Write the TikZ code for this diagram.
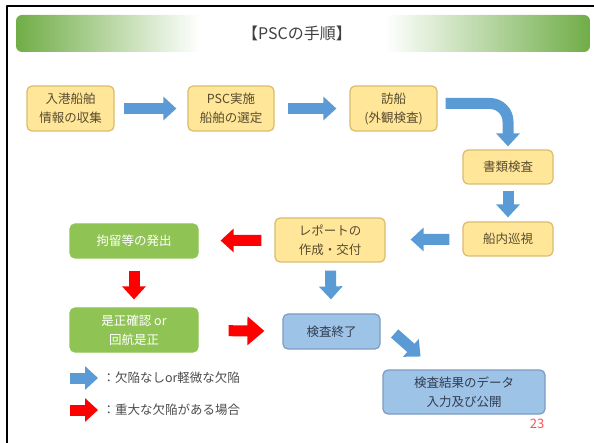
\documentclass[tikz,border=0pt]{standalone}
\usepackage{fontspec}
\setmainfont{Noto Sans CJK JP}
\usetikzlibrary{arrows.meta}
\definecolor{bangreen}{RGB}{112,173,71}
\definecolor{yfill}{RGB}{255,230,153}
\definecolor{yline}{RGB}{218,188,110}
\definecolor{ytext}{RGB}{88,76,46}
\definecolor{gfill}{RGB}{143,196,84}
\definecolor{bfill}{RGB}{157,195,230}
\definecolor{bline}{RGB}{125,155,195}
\definecolor{btext}{RGB}{50,60,80}
\definecolor{arrblue}{RGB}{91,155,213}
\definecolor{arrred}{RGB}{255,0,0}
\definecolor{pagered}{RGB}{255,80,80}
\begin{document}
\begin{tikzpicture}[x=1pt, y=-1pt, font=\fontsize{12.5}{19}\selectfont, line join=round,
  box/.style={rounded corners=5pt, inner sep=0pt, align=center, line width=1.2pt},
  ybox/.style={box, fill=yfill, draw=yline, text=ytext},
  gbox/.style={box, fill=gfill, draw=gfill, text=white},
  bbox/.style={box, fill=bfill, draw=bline, text=btext},
  barrow/.style={draw=arrblue, line width=11pt, line cap=butt,
    -{Triangle[width=23pt, length=13pt]}},
  rarrow/.style={draw=arrred, line width=11pt, line cap=butt,
    -{Triangle[width=23pt, length=13pt]}}]
  \useasboundingbox (0,0) rectangle (594,443);
  % 枠と見出し
  \draw[line width=2pt] (7,443) -- (7,6) -- (594,6);
  \begin{scope}
    \clip[rounded corners=6pt] (16,15) rectangle (590,52);
    \shade[left color=bangreen, right color=white] (16,15) rectangle (200,52);
    \shade[left color=white, right color=bangreen] (385,15) rectangle (590,52);
  \end{scope}
  \node[text=black!75, font=\fontsize{16}{18}\selectfont] (title) at (297,33) {【PSCの手順】};
  % 箱
  \node[ybox, minimum width=87pt, minimum height=45pt] (info) at (70.5,108.5) {入港船舶\\情報の収集};
  \node[ybox, minimum width=86pt, minimum height=45pt] (select) at (231,108.5) {PSC実施\\船舶の選定};
  \node[ybox, minimum width=87pt, minimum height=45pt] (visit) at (393.5,108.5) {訪船\\(外観検査)};
  \node[ybox, minimum width=90pt, minimum height=34pt] (docs) at (508,167) {書類検査};
  \node[ybox, minimum width=90pt, minimum height=34pt] (patrol) at (508,239) {船内巡視};
  \node[ybox, minimum width=110pt, minimum height=44pt] (report) at (330,240) {レポートの\\作成・交付};
  \node[gbox, minimum width=128pt, minimum height=34pt] (detain) at (134,241) {拘留等の発出};
  \node[gbox, minimum width=128pt, minimum height=44pt] (correct) at (134,330) {是正確認 or\\回航是正};
  \node[bbox, minimum width=97pt, minimum height=35pt] (finish) at (331.5,331.5) {検査終了};
  \node[bbox, minimum width=162pt, minimum height=44pt] (data) at (464,392) {検査結果のデータ\\入力及び公開};
  % 矢印
  \draw[barrow, shorten <=9pt, shorten >=11pt] (info) -- (select);
  \draw[barrow, shorten <=13pt, shorten >=13pt] (select) -- (visit);
  \draw[barrow, rounded corners=18pt, shorten >=3pt] ([shift={(8pt,5pt)}]visit.east) -| (docs.north);
  \draw[barrow, shorten <=6pt, shorten >=4pt] (docs) -- (patrol);
  \draw[barrow, shorten <=13pt, shorten >=25pt] (patrol) -- (report);
  \draw[rarrow, shorten <=13pt, shorten >=22pt] (report) -- (detain);
  \draw[barrow, shorten <=8pt, shorten >=14pt] (report) -- (finish);
  \draw[rarrow, shorten <=12pt, shorten >=8pt] (detain) -- (correct);
  \draw[rarrow, shorten <=30pt, shorten >=18pt, -{Triangle[width=28pt, length=17pt]}] (correct) -- (finish);
  \draw[barrow, shorten >=0pt] ([shift={(14pt,-2pt)}]finish.east) -- ([shift={(40pt,-25pt)}]finish.east);
  % 凡例
  \node[anchor=west, text=black!70] (lgblue) at (99,378) {：欠陥なしor軽微な欠陥};
  \node[anchor=west, text=black!70] (lgred) at (99,410) {：重大な欠陥がある場合};
  \draw[barrow] ([xshift=-29pt]lgblue.west) -- ([xshift=-1pt]lgblue.west);
  \draw[rarrow] ([xshift=-29pt]lgred.west) -- ([xshift=-1pt]lgred.west);
  \node[text=pagered, font=\fontsize{13}{15}\selectfont] (page) at (537,424) {23};
\end{tikzpicture}
\end{document}
